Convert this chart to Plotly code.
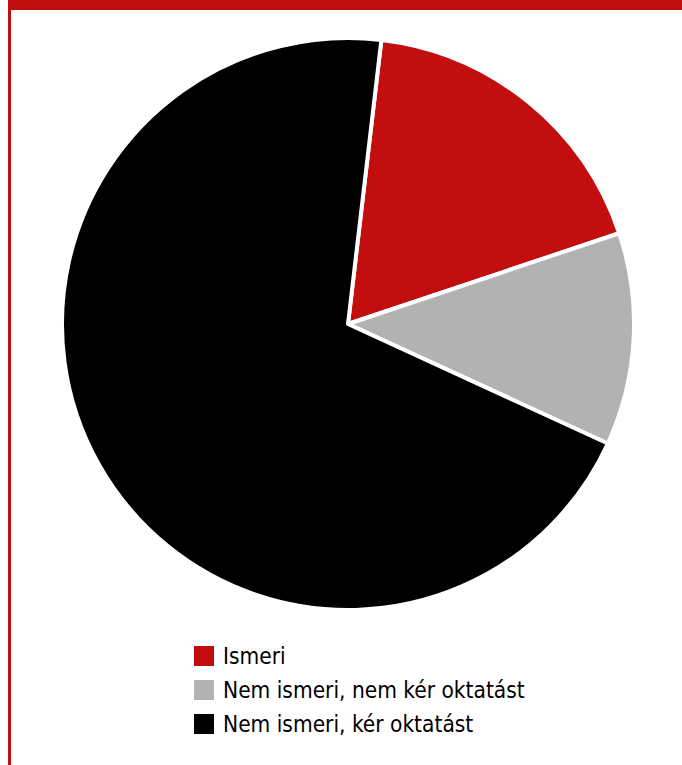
import plotly.graph_objects as go

# Survey answers and their shares (%)
labels = ["Ismeri", "Nem ismeri, nem kér oktatást", "Nem ismeri, kér oktatást"]
values = [18, 12, 70]
colors = ["#C20E0E", "#B2B2B2", "#000000"]

W, H = 682, 765
FONT = "DejaVu Sans Condensed, Liberation Sans Narrow, Arial Narrow, sans-serif"
ACCENT = "#C20E0E"


def px(x):
    return x / W


def py(y):
    return 1 - y / H


fig = go.Figure()

fig.add_trace(go.Pie(
    labels=labels,
    values=values,
    marker=dict(colors=colors, line=dict(color="white", width=4)),
    sort=False,
    direction="clockwise",
    rotation=6.7,
    textinfo="none",
    hoverinfo="label+percent",
    showlegend=False,
    domain=dict(x=[px(62), px(634)], y=[py(610), py(38)]),
))

shapes = [
    # top accent band and left rule of the frame
    dict(type="rect", xref="paper", yref="paper", x0=px(8), x1=px(W), y0=py(10), y1=py(0),
         fillcolor=ACCENT, line=dict(width=0), layer="above"),
    dict(type="rect", xref="paper", yref="paper", x0=px(8), x1=px(11), y0=py(H), y1=py(0),
         fillcolor=ACCENT, line=dict(width=0), layer="above"),
]
annotations = []

# legend: colour swatch followed by the category label
row_y = [656, 690, 724]
for lab, col, yc in zip(labels, colors, row_y):
    shapes.append(dict(type="rect", xref="paper", yref="paper",
                       x0=px(194), x1=px(214), y0=py(yc + 10), y1=py(yc - 10),
                       fillcolor=col, line=dict(width=0)))
    annotations.append(dict(xref="paper", yref="paper", x=px(221), y=py(yc),
                            xanchor="left", yanchor="middle", text=lab, showarrow=False,
                            font=dict(family=FONT, size=22.5, color="#000000")))

fig.update_layout(
    width=W, height=H,
    margin=dict(l=0, r=0, t=0, b=0),
    paper_bgcolor="white",
    plot_bgcolor="white",
    shapes=shapes,
    annotations=annotations,
)

fig.write_html("out.html")
